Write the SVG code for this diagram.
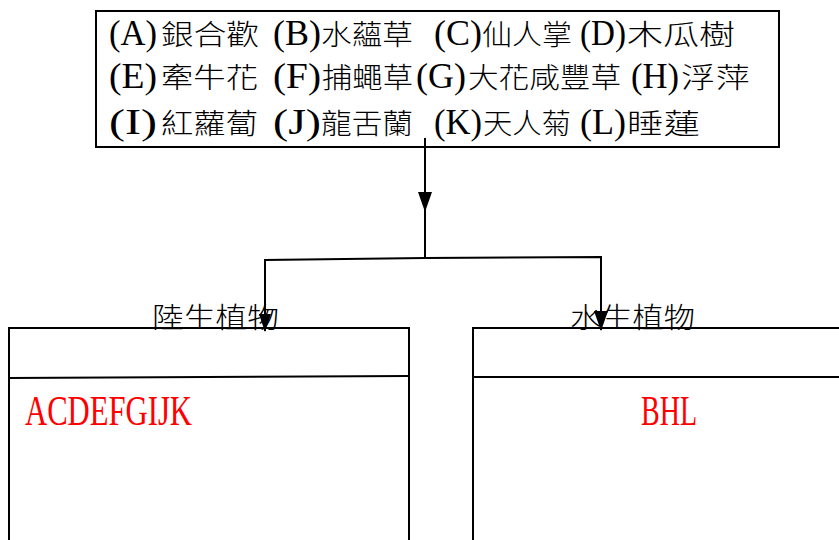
<svg xmlns="http://www.w3.org/2000/svg" width="839" height="540" viewBox="0 0 839 540">
<style>
.ln{stroke:#000;stroke-width:2;fill:none}
.box{stroke:#000;stroke-width:2;fill:#fff}
.cjk{font-family:"Noto Sans CJK TC","Noto Sans CJK SC",sans-serif;font-size:28px;font-weight:300;fill:#000}
.lat{font-family:"Liberation Serif",serif;font-size:35px;fill:#000}
.red{font-family:"Liberation Serif",serif;font-size:42px;fill:#ff0000}
.ah{fill:#000}
</style>
<rect width="839" height="540" fill="#fff"/>
<g id="plants">
<rect class="box" x="96" y="11" width="683" height="136"/>
<text class="lat" x="109" y="45" textLength="48" lengthAdjust="spacingAndGlyphs">(A)</text>
<text class="cjk" x="161" y="45" textLength="98" lengthAdjust="spacingAndGlyphs">銀合歡</text>
<text class="lat" x="273" y="45" textLength="48" lengthAdjust="spacingAndGlyphs">(B)</text>
<text class="cjk" x="321" y="45" textLength="92" lengthAdjust="spacingAndGlyphs">水蘊草</text>
<text class="lat" x="434" y="45" textLength="48" lengthAdjust="spacingAndGlyphs">(C)</text>
<text class="cjk" x="482" y="45" textLength="90" lengthAdjust="spacingAndGlyphs">仙人掌</text>
<text class="lat" x="580" y="45" textLength="46" lengthAdjust="spacingAndGlyphs">(D)</text>
<text class="cjk" x="627" y="45" textLength="108" lengthAdjust="spacingAndGlyphs">木瓜樹</text>

<text class="lat" x="109" y="88" textLength="48" lengthAdjust="spacingAndGlyphs">(E)</text>
<text class="cjk" x="161" y="88" textLength="97" lengthAdjust="spacingAndGlyphs">牽牛花</text>
<text class="lat" x="273" y="88" textLength="48" lengthAdjust="spacingAndGlyphs">(F)</text>
<text class="cjk" x="322" y="88" textLength="91" lengthAdjust="spacingAndGlyphs">捕蠅草</text>
<text class="lat" x="416" y="88" textLength="50" lengthAdjust="spacingAndGlyphs">(G)</text>
<text class="cjk" x="468" y="88" textLength="153" lengthAdjust="spacingAndGlyphs">大花咸豐草</text>
<text class="lat" x="631" y="88" textLength="48" lengthAdjust="spacingAndGlyphs">(H)</text>
<text class="cjk" x="681" y="88" textLength="69" lengthAdjust="spacingAndGlyphs">浮萍</text>

<text class="lat" x="109" y="134" textLength="48" lengthAdjust="spacingAndGlyphs">(I)</text>
<text class="cjk" x="161" y="134" textLength="97" lengthAdjust="spacingAndGlyphs">紅蘿蔔</text>
<text class="lat" x="273" y="134" textLength="48" lengthAdjust="spacingAndGlyphs">(J)</text>
<text class="cjk" x="321" y="134" textLength="92" lengthAdjust="spacingAndGlyphs">龍舌蘭</text>
<text class="lat" x="434" y="134" textLength="48" lengthAdjust="spacingAndGlyphs">(K)</text>
<text class="cjk" x="483" y="134" textLength="88" lengthAdjust="spacingAndGlyphs">天人菊</text>
<text class="lat" x="580" y="134" textLength="46" lengthAdjust="spacingAndGlyphs">(L)</text>
<text class="cjk" x="627" y="134" textLength="73" lengthAdjust="spacingAndGlyphs">睡蓮</text>
</g>
<g id="land">
<rect class="box" x="9" y="328" width="400" height="230"/>
<line class="ln" x1="9" y1="378" x2="409" y2="376"/>
<text class="red" x="25" y="425" textLength="167" lengthAdjust="spacingAndGlyphs">ACDEFGIJK</text>
</g>
<g id="water">
<rect class="box" x="473" y="328" width="380" height="230"/>
<line class="ln" x1="473" y1="377" x2="839" y2="377"/>
<text class="red" x="641" y="425" textLength="56" lengthAdjust="spacingAndGlyphs">BHL</text>
</g>
<g id="labels">
<text class="cjk" x="152" y="328" font-size="30" textLength="127" lengthAdjust="spacingAndGlyphs">陸生植物</text>
<text class="cjk" x="570" y="328" font-size="30" textLength="125" lengthAdjust="spacingAndGlyphs">水生植物</text>
</g>
<g id="connectors">
<polyline class="ln" points="425,138 425,258"/>
<polygon class="ah" points="418,192 432,192 425,212"/>
<polyline class="ln" points="265,331 265,260 425,258 601,257 601,330"/>
<polygon class="ah" points="259,314 271,314 265,332"/>
<polygon class="ah" points="594,311 608,311 601,331"/>
</g>
</svg>
